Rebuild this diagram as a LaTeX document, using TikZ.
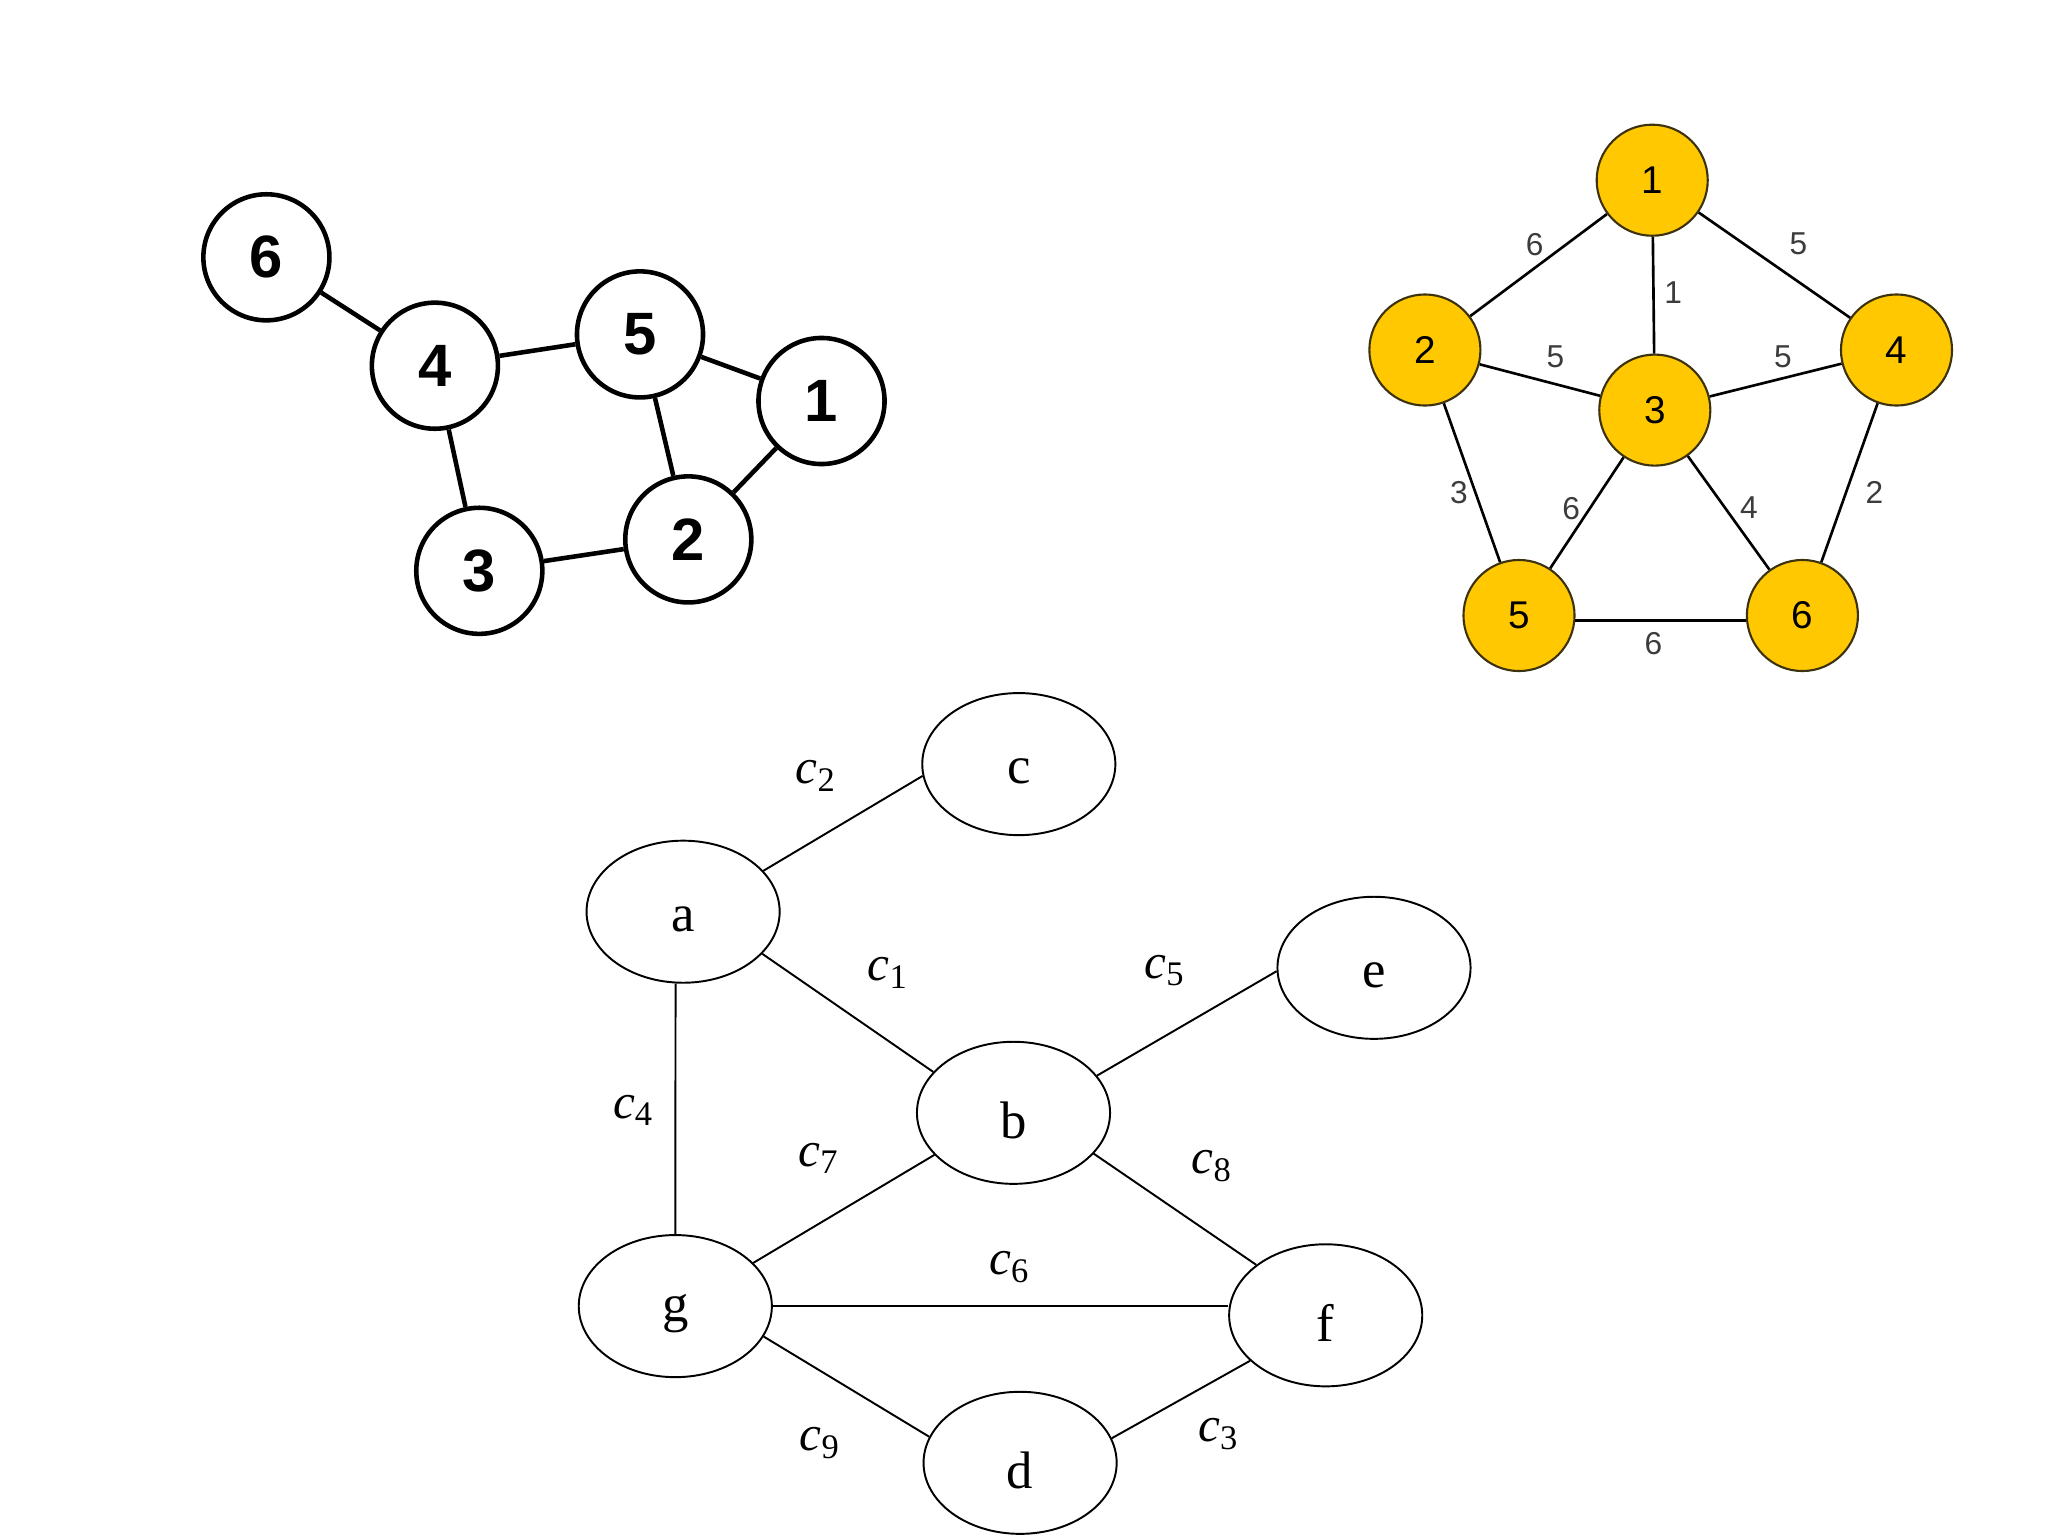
\documentclass[tikz,border=0pt]{standalone}
\usepackage{fontspec}
\setmainfont{Liberation Serif}
\newfontfamily\arialf{Liberation Sans}
\usetikzlibrary{shapes.geometric}
\definecolor{gold}{RGB}{255,200,0}
\definecolor{goldline}{RGB}{60,50,15}
\definecolor{wlabel}{RGB}{60,60,60}
\newcommand\lowtxt[1]{\raisebox{-2.1pt}[\height][\depth]{#1}}
\begin{document}
\begin{tikzpicture}[x=0.01cm,y=-0.01cm,
  bnode/.style={circle,draw,line width=1.3pt,minimum size=1.26cm,inner sep=0pt,font=\arialf\bfseries\fontsize{17}{17}\selectfont},
  bedge/.style={line width=1.3pt},
  ynode/.style={circle,draw=goldline,fill=gold,line width=0.6pt,minimum size=1.11cm,inner sep=0pt,font=\arialf\fontsize{11}{11}\selectfont},
  yedge/.style={line width=0.75pt},
  wlab/.style={text=wlabel,font=\arialf\fontsize{9}{9}\selectfont,inner sep=0pt},
  enode/.style={ellipse,draw,line width=0.55pt,minimum width=1.93cm,minimum height=1.42cm,inner sep=0pt,font=\fontsize{15}{15}\selectfont},
  eedge/.style={line width=0.55pt},
  clab/.style={font=\fontsize{14}{14}\selectfont,inner sep=0pt}
]
\useasboundingbox[fill=white] (0,0) rectangle (2048,1536);

% ---------- left graph ----------
\node[bnode] (L6) at (266.4,257.3) {6};
\node[bnode] (L4) at (434.9,365.7) {4};
\node[bnode] (L5) at (640.0,334.4) {5};
\node[bnode] (L1) at (821.5,401.0) {1};
\node[bnode] (L3) at (479.3,570.8) {3};
\node[bnode] (L2) at (688.3,539.4) {2};
\draw[bedge] (L6) -- (L4);
\draw[bedge] (L4) -- (L5);
\draw[bedge] (L4) -- (L3);
\draw[bedge] (L5) -- (L1);
\draw[bedge] (L5) -- (L2);
\draw[bedge] (L1) -- (L2);
\draw[bedge] (L3) -- (L2);

% ---------- right (yellow) graph ----------
\node[ynode] (Y1) at (1652.2,180.2) {1};
\node[ynode] (Y2) at (1424.9,350.0) {2};
\node[ynode] (Y3) at (1654.8,410.1) {3};
\node[ynode] (Y4) at (1896.5,350.0) {4};
\node[ynode] (Y5) at (1519.0,615.5) {5};
\node[ynode] (Y6) at (1802.4,615.5) {6};
\draw[yedge] (Y1) -- (Y2);
\draw[yedge] (Y1) -- (Y4);
\draw[yedge] (Y1) -- (Y3);
\draw[yedge] (Y2) -- (Y3);
\draw[yedge] (Y3) -- (Y4);
\draw[yedge] (Y2) -- (Y5);
\draw[yedge] (Y3) -- (Y5);
\draw[yedge] (Y3) -- (Y6);
\draw[yedge] (Y4) -- (Y6);
\draw[yedge] (Y5.-5) -- (Y6.185);
\node[wlab] (w12) at (1534.7,244.2) {6};
\node[wlab] (w14) at (1798.5,244.2) {5};
\node[wlab] (w13) at (1673.1,292.6) {1};
\node[wlab] (w23) at (1555.5,356.6) {5};
\node[wlab] (w34) at (1782.8,356.6) {5};
\node[wlab] (w25) at (1458.9,492.4) {3};
\node[wlab] (w35) at (1571.2,508.1) {6};
\node[wlab] (w36) at (1748.9,508.1) {4};
\node[wlab] (w46) at (1874.3,492.4) {2};
\node[wlab] (w56) at (1653.5,643.9) {6};

% ---------- bottom graph ----------
\node[enode] (c) at (1018.8,764.1) {\lowtxt{c}};
\node[enode] (a) at (683.1,911.7) {\lowtxt{a}};
\node[enode] (e) at (1374.0,967.8) {\lowtxt{e}};
\node[enode] (b) at (1013.5,1112.8) {\lowtxt{b}};
\node[enode] (g) at (675.3,1306.1) {\lowtxt{g}};
\node[enode] (f) at (1325.7,1315.3) {\lowtxt{f}};
\node[enode] (d) at (1020.1,1462.8) {\lowtxt{d}};
\draw[eedge] (a.27) -- (c.187);
\draw[eedge] (a.332) -- (b.153);
\draw[eedge] (a.264) -- (g.north);
\draw[eedge] (b.24) -- (e.182);
\draw[eedge] (b.208) -- (g.29);
\draw[eedge] (b.333) -- (f.144);
\draw[eedge] (g.east) -- (g.east -| f.west);
\draw[eedge] (g.341) -- (d.164);
\draw[eedge] (d.15) -- (f.211);
\node[clab] (l2) at (816.3,775.8) {\textit{c}\textsubscript{2}};
\node[clab] (l1) at (888.1,973.0) {\textit{c}\textsubscript{1}};
\node[clab] (l4) at (633.5,1110.2) {\textit{c}\textsubscript{4}};
\node[clab] (l5) at (1165.0,970.4) {\textit{c}\textsubscript{5}};
\node[clab] (l7) at (818.9,1158.5) {\textit{c}\textsubscript{7}};
\node[clab] (l8) at (1212.1,1166.3) {\textit{c}\textsubscript{8}};
\node[clab] (l6) at (1009.6,1266.9) {\textit{c}\textsubscript{6}};
\node[clab] (l9) at (820.2,1443.2) {\textit{c}\textsubscript{9}};
\node[clab] (l3) at (1218.6,1434.1) {\textit{c}\textsubscript{3}};
\end{tikzpicture}
\end{document}
